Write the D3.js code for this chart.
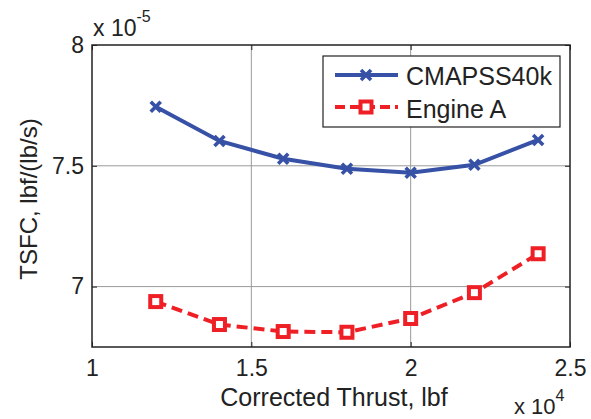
<!DOCTYPE html>
<html><head><meta charset="utf-8">
<script src="https://cdn.jsdelivr.net/npm/d3@7"></script>
<style>body{margin:0;background:#fff}text{font-family:"Liberation Sans",Arial,sans-serif;fill:#222}</style>
</head><body><svg id="c" width="591" height="419"></svg>
<script>
const thrust = [1.2, 1.4, 1.6, 1.8, 2.0, 2.2, 2.4];
const cmapss = [7.744, 7.603, 7.529, 7.488, 7.471, 7.504, 7.607];
const engineA = [6.938, 6.843, 6.814, 6.811, 6.868, 6.975, 7.136];
const xTicks = [1, 1.5, 2, 2.5];
const yTicks = [7, 7.5, 8];
const seriesNames = ["CMAPSS40k", "Engine A"];

const svg = d3.select("#c");
const L = 92, R = 570, T = 45, B = 347;
const x = d3.scaleLinear().domain([1, 2.5]).range([L, R]);
const y = d3.scaleLinear().domain([6.75, 8]).range([B, T]);

// grid
svg.append("g").selectAll("line").data(xTicks.slice(1, -1)).join("line")
  .attr("x1", d => x(d)).attr("x2", d => x(d)).attr("y1", T).attr("y2", B)
  .attr("stroke", "#9a9a9a").attr("stroke-width", 1);
svg.append("g").selectAll("line").data(yTicks.filter(d => d < 8)).join("line")
  .attr("y1", d => y(d)).attr("y2", d => y(d)).attr("x1", L).attr("x2", R)
  .attr("stroke", "#9a9a9a").attr("stroke-width", 1);

// axes with inward ticks
const ax = d3.axisBottom(x).tickValues(xTicks).tickSize(-5).tickPadding(13).tickFormat(d3.format("~g"));
const ay = d3.axisLeft(y).tickValues(yTicks).tickSize(-5).tickPadding(8).tickFormat(d3.format("~g"));
const gx = svg.append("g").attr("transform", `translate(0,${B})`).call(ax);
const gy = svg.append("g").attr("transform", `translate(${L},0)`).call(ay);
const gxt = svg.append("g").attr("transform", `translate(0,${T})`).call(d3.axisTop(x).tickValues(xTicks).tickSize(-5).tickFormat(""));
const gyr = svg.append("g").attr("transform", `translate(${R},0)`).call(d3.axisRight(y).tickValues(yTicks).tickSize(-5).tickFormat(""));
[gx, gy, gxt, gyr].forEach(g => {
  g.select(".domain").remove();
  g.selectAll("line").attr("stroke", "#222");
  g.selectAll("text").style("font-size", "23px").attr("fill", "#222");
});
svg.append("rect").attr("x", L).attr("y", T).attr("width", R - L).attr("height", B - T)
  .attr("fill", "none").attr("stroke", "#222").attr("stroke-width", 1.5);

// lines
const blue = "#3651a6", red = "#ee2026";
const line = d3.line().x(d => x(d[0])).y(d => y(d[1]));
const dA = thrust.map((t, i) => [t, cmapss[i]]);
const dB = thrust.map((t, i) => [t, engineA[i]]);
svg.append("path").attr("d", line(dA)).attr("fill", "none").attr("stroke", blue).attr("stroke-width", 4);
svg.append("path").attr("d", line(dB)).attr("fill", "none").attr("stroke", red).attr("stroke-width", 4).attr("stroke-dasharray", "11,6");

function xMark(g, cx, cy) {
  const s = 5;
  g.append("path").attr("d", `M${cx - s},${cy - s}L${cx + s},${cy + s}M${cx - s},${cy + s}L${cx + s},${cy - s}`)
    .attr("stroke", blue).attr("stroke-width", 3.6).attr("fill", "none");
}
function sqMark(g, cx, cy) {
  g.append("rect").attr("x", cx - 5.5).attr("y", cy - 5.5).attr("width", 11).attr("height", 11)
    .attr("fill", "#fff").attr("stroke", red).attr("stroke-width", 4);
}
const mk = svg.append("g");
dA.forEach(d => xMark(mk, x(d[0]), y(d[1])));
dB.forEach(d => sqMark(mk, x(d[0]), y(d[1])));

// legend
const lg = svg.append("g");
lg.append("rect").attr("x", 323).attr("y", 56).attr("width", 237).attr("height", 71)
  .attr("fill", "#fff").attr("stroke", "#222").attr("stroke-width", 1.2);
lg.append("line").attr("x1", 335).attr("x2", 398).attr("y1", 75).attr("y2", 75).attr("stroke", blue).attr("stroke-width", 4);
xMark(lg, 366, 75);
lg.append("line").attr("x1", 335).attr("x2", 398).attr("y1", 107).attr("y2", 107).attr("stroke", red).attr("stroke-width", 4).attr("stroke-dasharray", "10,5");
sqMark(lg, 366, 107);
lg.selectAll("text").data(seriesNames).join("text")
  .attr("x", 406).attr("y", (d, i) => 85 + i * 33).style("font-size", "25px").text(d => d);

// exponent labels
const e1 = svg.append("text").attr("x", 93).attr("y", 36).style("font-size", "23px");
e1.append("tspan").text("x 10");
e1.append("tspan").attr("dy", -14).style("font-size", "16px").text("-5");
const e2 = svg.append("text").attr("x", 514).attr("y", 414).style("font-size", "22px");
e2.append("tspan").text("x 10");
e2.append("tspan").attr("dy", -13).style("font-size", "16px").text("4");

// axis titles
svg.append("text").attr("x", 334).attr("y", 406).attr("text-anchor", "middle")
  .style("font-size", "25px").text("Corrected Thrust, lbf");
svg.append("text").attr("transform", `translate(37,199) rotate(-90)`).attr("text-anchor", "middle")
  .style("font-size", "24px").text("TSFC, lbf/(lb/s)");
</script></body></html>
